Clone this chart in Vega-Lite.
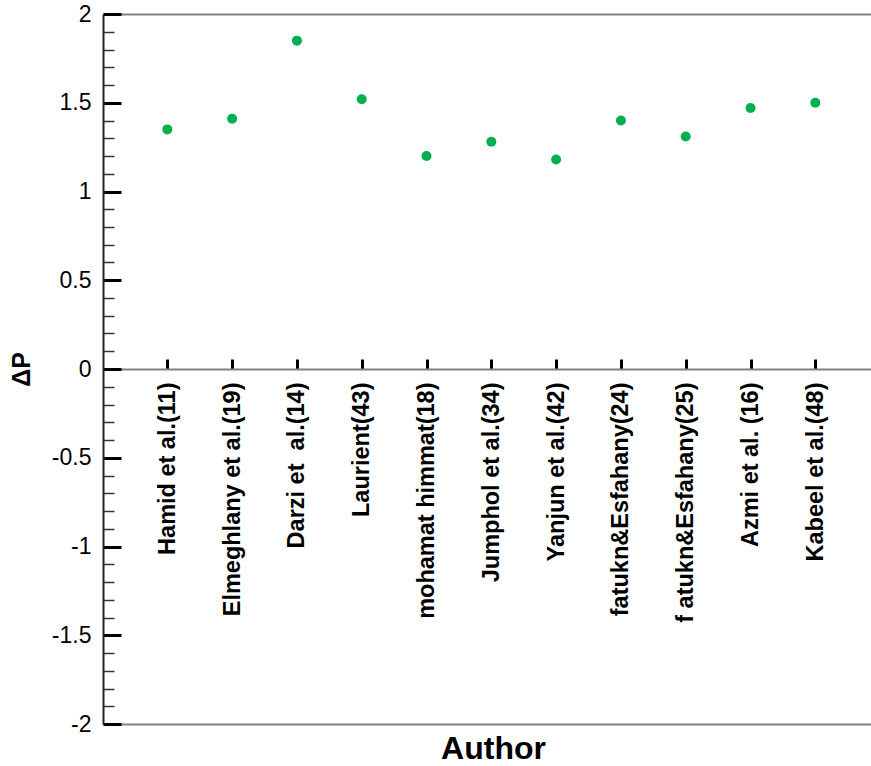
{
  "$schema": "https://vega.github.io/schema/vega-lite/v6.json",
  "width": 768,
  "height": 710,
  "autosize": {"type": "none"},
  "padding": {"left": 103, "top": 14, "right": 0, "bottom": 42},
  "background": "white",
  "config": {
    "view": {"stroke": null},
    "font": "Liberation Sans",
    "axis": {"grid": false, "labelFont": "Liberation Sans", "titleFont": "Liberation Sans", "labelColor": "black", "titleColor": "black"}
  },
  "data": {
    "values": [
      {"author": "Hamid et al.(11)", "dp": 1.35},
      {"author": "Elmeghlany et al.(19)", "dp": 1.41},
      {"author": "Darzi et\u00a0 al.(14)", "dp": 1.85},
      {"author": "Laurient(43)", "dp": 1.52},
      {"author": "mohamat himmat(18)", "dp": 1.20},
      {"author": "Jumphol et al.(34)", "dp": 1.28},
      {"author": "Yanjun et al.(42)", "dp": 1.18},
      {"author": "fatukn&Esfahany(24)", "dp": 1.40},
      {"author": "f atukn&Esfahany(25)", "dp": 1.31},
      {"author": "Azmi et al. (16)", "dp": 1.47},
      {"author": "Kabeel et al.(48)", "dp": 1.50}
    ]
  },
  "resolve": {"axis": {"x": "independent", "y": "independent"}},
  "layer": [
    {
      "mark": {"type": "point", "filled": true, "size": 100, "color": "#00b050", "opacity": 1},
      "encoding": {
        "x": {
          "field": "author", "type": "nominal", "sort": null,
          "scale": {"type": "point", "padding": 0.926, "align": 0.536},
          "axis": {
            "orient": "bottom", "offset": -355, "title": null,
            "domain": true, "domainColor": "#808080", "domainWidth": 2,
            "ticks": true, "tickColor": "black", "tickWidth": 3, "tickSize": -10,
            "labelAngle": -90, "labelFontSize": 23.5, "labelFontWeight": "bold",
            "labelPadding": 23, "labelLimit": 0, "labelOverlap": false
          }
        },
        "y": {
          "field": "dp", "type": "quantitative",
          "scale": {"domain": [-2, 2], "nice": false, "zero": false},
          "axis": {
            "orient": "left", "title": "ΔP", "titleFontSize": 25, "titleFontWeight": "bold", "titlePadding": 17,
            "values": [-2, -1.5, -1, -0.5, 0, 0.5, 1, 1.5, 2],
            "labelExpr": "'' + datum.value",
            "domain": true, "domainColor": "#222222", "domainWidth": 2,
            "ticks": true, "tickColor": "black", "tickWidth": 3, "tickSize": -18,
            "labelFontSize": 23, "labelPadding": 30, "labelOverlap": false, "labelFlush": false
          }
        }
      }
    },
    {
      "mark": {"type": "point", "opacity": 0},
      "encoding": {
        "x": {
          "field": "author", "type": "nominal", "sort": null,
          "axis": {
            "orient": "bottom", "title": "Author", "titleFontSize": 32, "titleFontWeight": "bold", "titlePadding": 9, "titleX": 390,
            "domain": true, "domainColor": "#808080", "domainWidth": 2,
            "ticks": false, "labels": false
          }
        },
        "y": {
          "field": "dp", "type": "quantitative",
          "axis": {
            "orient": "left", "title": null,
            "values": [-1.9, -1.8, -1.7, -1.6, -1.4, -1.3, -1.2, -1.1, -0.9, -0.8, -0.7, -0.6, -0.4, -0.3, -0.2, -0.1, 0.1, 0.2, 0.3, 0.4, 0.6, 0.7, 0.8, 0.9, 1.1, 1.2, 1.3, 1.4, 1.6, 1.7, 1.8, 1.9],
            "domain": false, "labels": false,
            "ticks": true, "tickColor": "#333333", "tickWidth": 1.5, "tickSize": -11
          }
        }
      }
    },
    {
      "mark": {"type": "point", "opacity": 0},
      "encoding": {
        "x": {
          "field": "author", "type": "nominal", "sort": null,
          "axis": {
            "orient": "top", "title": null,
            "domain": true, "domainColor": "#808080", "domainWidth": 2,
            "ticks": false, "labels": false
          }
        },
        "y": {"field": "dp", "type": "quantitative", "axis": null}
      }
    }
  ]
}
